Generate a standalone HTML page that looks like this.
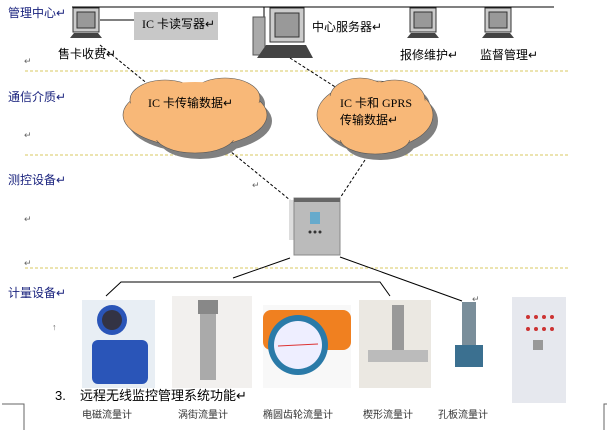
<!DOCTYPE html>
<html><head><meta charset="utf-8"><style>
body{margin:0;background:#fff;}
svg{display:block;font-family:"Liberation Serif","Noto Sans CJK SC",sans-serif;}
.l{fill:#1a237e;font-size:12px;font-family:"Liberation Sans","Noto Sans CJK SC",sans-serif;}
.t{font-size:12px;fill:#000;}
.c{font-size:10px;fill:#333;font-family:"Liberation Sans","Noto Sans CJK SC",sans-serif;}
.r{font-size:9px;fill:#666;}
</style></head><body>
<svg width="609" height="438" viewBox="0 0 609 438" xmlns="http://www.w3.org/2000/svg">
<defs>
<g id="pc">
<rect x="3" y="0" width="26" height="24" fill="#ccc" stroke="#333"/>
<rect x="7" y="4" width="18" height="16" fill="#999" stroke="#333"/>
<path d="M0 30 L32 30 L28 25 L4 25 Z" fill="#444"/>
</g>
</defs>
<line x1="72" y1="7" x2="554" y2="7" stroke="#000" stroke-width="1"/>
<line x1="264" y1="7" x2="264" y2="20" stroke="#000"/>
<!-- dashed yellow -->
<g stroke="#d8c860" stroke-dasharray="3,2" stroke-width="1">
<line x1="25" y1="71" x2="568" y2="71"/><line x1="25" y1="155" x2="568" y2="155"/><line x1="25" y1="268" x2="568" y2="268"/>
</g>
<text class="l" x="8" y="17">管理中心↵</text>
<text class="l" x="8" y="101">通信介质↵</text>
<text class="l" x="8" y="184">测控设备↵</text>
<text class="l" x="8" y="297">计量设备↵</text>
<text class="r" x="24" y="64">↵</text><text class="r" x="24" y="138">↵</text>
<text class="r" x="24" y="222">↵</text><text class="r" x="24" y="266">↵</text>
<text class="r" x="252" y="188">↵</text><text class="r" x="472" y="302">↵</text>
<text class="r" x="52" y="330">↑</text>
<!-- computers -->
<use href="#pc" x="70" y="8"/>
<line x1="100" y1="20" x2="135" y2="20" stroke="#000"/>
<rect x="134" y="12" width="84" height="28" fill="#c8c8c8"/>
<text class="t" x="142" y="28">IC 卡读写器↵</text>
<text class="l" x="58" y="58" style="fill:#000">售卡收费↵</text>
<rect x="253" y="17" width="12" height="38" fill="#aaa" stroke="#555"/>
<rect x="270" y="8" width="34" height="34" fill="#ccc" stroke="#333"/>
<rect x="275" y="13" width="24" height="24" fill="#999" stroke="#333"/>
<path d="M257 58 L313 58 L306 45 L266 45 Z" fill="#444"/>
<text class="l" x="312" y="31" style="fill:#000">中心服务器↵</text>
<use href="#pc" x="407" y="8"/>
<text class="l" x="400" y="59" style="fill:#000">报修维护↵</text>
<use href="#pc" x="482" y="8"/>
<text class="l" x="480" y="59" style="fill:#000">监督管理↵</text>
<!-- dashed connectors -->
<g stroke="#000" stroke-dasharray="3,2" stroke-width="1">
<line x1="100" y1="45" x2="290" y2="200"/>
<line x1="290" y1="58" x2="340" y2="90"/>
<line x1="365" y1="160" x2="340" y2="198"/>
</g>
<!-- clouds -->
<g fill="#808080" transform="translate(5,6)">
<ellipse cx="195" cy="115" rx="72" ry="32"/><ellipse cx="165" cy="100" rx="35" ry="20"/><ellipse cx="225" cy="98" rx="35" ry="20"/><ellipse cx="195" cy="135" rx="40" ry="18"/>
<ellipse cx="375" cy="115" rx="58" ry="34"/><ellipse cx="360" cy="98" rx="30" ry="20"/><ellipse cx="395" cy="100" rx="30" ry="20"/><ellipse cx="375" cy="138" rx="35" ry="16"/>
</g>
<g fill="#f8b878" stroke="#555" stroke-width="0.6">
<ellipse cx="195" cy="115" rx="72" ry="32"/><ellipse cx="165" cy="100" rx="35" ry="20"/><ellipse cx="225" cy="98" rx="35" ry="20"/><ellipse cx="195" cy="135" rx="40" ry="18"/>
<ellipse cx="375" cy="115" rx="58" ry="34"/><ellipse cx="360" cy="98" rx="30" ry="20"/><ellipse cx="395" cy="100" rx="30" ry="20"/><ellipse cx="375" cy="138" rx="35" ry="16"/>
</g>
<g fill="#f8b878"><ellipse cx="195" cy="115" rx="70" ry="30"/><ellipse cx="375" cy="115" rx="56" ry="32"/><ellipse cx="195" cy="100" rx="60" ry="18"/><ellipse cx="375" cy="100" rx="45" ry="18"/></g>
<text class="t" x="148" y="107">IC 卡传输数据↵</text>
<text class="t" x="340" y="107">IC 卡和 GPRS</text>
<text class="t" x="340" y="124">传输数据↵</text>
<!-- controller -->
<rect x="289" y="200" width="6" height="40" fill="#ddd"/>
<rect x="294" y="198" width="46" height="57" fill="#bbb" stroke="#888"/>
<rect x="294" y="198" width="46" height="4" fill="#666"/>
<rect x="310" y="212" width="10" height="12" fill="#6ac"/>
<circle cx="310" cy="232" r="1.5" fill="#333"/><circle cx="315" cy="232" r="1.5" fill="#333"/><circle cx="320" cy="232" r="1.5" fill="#333"/>
<!-- solid connectors -->
<g stroke="#000" fill="none">
<path d="M290 258 L233 278"/>
<path d="M106 296 L121 282 L380 282 L390 296"/>
<path d="M340 257 L462 301"/>
</g>
<!-- device images -->
<rect x="82" y="300" width="73" height="88" fill="#e8eef4"/>
<rect x="92" y="340" width="56" height="44" rx="6" fill="#2a55b8"/>
<circle cx="112" cy="320" r="15" fill="#2a55b8"/><circle cx="112" cy="320" r="10" fill="#334"/>
<rect x="172" y="296" width="80" height="92" fill="#f2f0ee"/>
<rect x="200" y="305" width="16" height="75" fill="#aaa"/><rect x="198" y="300" width="20" height="14" fill="#888"/>
<rect x="263" y="305" width="88" height="83" fill="#f8f8f8"/>
<rect x="263" y="310" width="88" height="40" rx="8" fill="#f08020"/>
<circle cx="298" cy="345" r="30" fill="#2a7aa8"/><circle cx="298" cy="345" r="24" fill="#eef"/>
<line x1="278" y1="346" x2="318" y2="344" stroke="#d33"/>
<rect x="359" y="300" width="72" height="88" fill="#ebe8e2"/>
<rect x="368" y="350" width="60" height="12" fill="#bbb"/><rect x="392" y="305" width="12" height="45" fill="#999"/>
<rect x="462" y="302" width="14" height="55" fill="#7a8e9a"/>
<rect x="455" y="345" width="28" height="22" fill="#3b7090"/>
<rect x="512" y="297" width="54" height="106" fill="#e6e8ee"/>
<g fill="#c33"><circle cx="528" cy="317" r="2"/><circle cx="536" cy="317" r="2"/><circle cx="544" cy="317" r="2"/><circle cx="552" cy="317" r="2"/>
<circle cx="528" cy="329" r="2"/><circle cx="536" cy="329" r="2"/><circle cx="544" cy="329" r="2"/><circle cx="552" cy="329" r="2"/></g>
<rect x="533" y="340" width="10" height="10" fill="#999"/>
<text x="55" y="400" style="font-size:13px;font-family:'Liberation Sans','Noto Sans CJK SC',sans-serif">3.</text>
<text x="80" y="400" style="font-size:13px;font-family:'Liberation Sans','Noto Sans CJK SC',sans-serif">远程无线监控管理系统功能↵</text>
<text class="c" x="82" y="418">电磁流量计</text>
<text class="c" x="178" y="418">涡街流量计</text>
<text class="c" x="263" y="418">椭圆齿轮流量计</text>
<text class="c" x="363" y="418">楔形流量计</text>
<text class="c" x="438" y="418">孔板流量计</text>
<g stroke="#666" fill="none"><path d="M2 404 L24 404 L24 430"/><path d="M607 404 L604 404 L604 430"/></g>
</svg>
</body></html>
